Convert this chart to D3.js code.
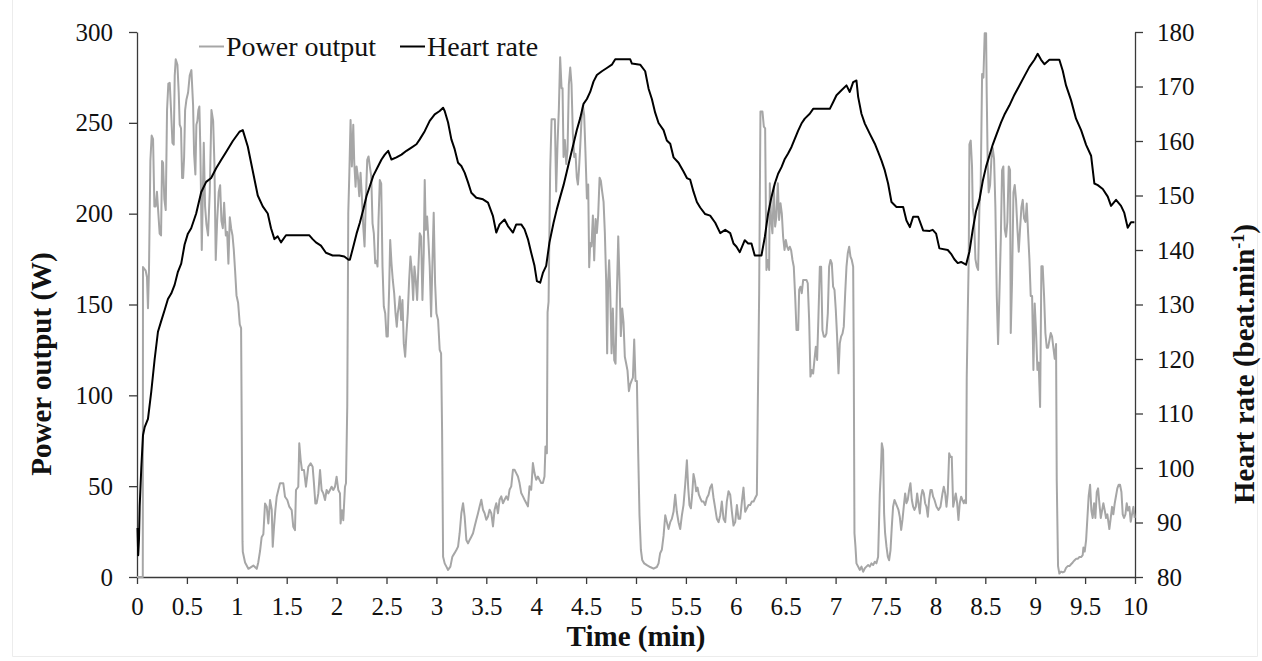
<!DOCTYPE html>
<html><head><meta charset="utf-8">
<script src="https://cdn.jsdelivr.net/npm/d3@7/dist/d3.min.js"></script>
<style>
body{margin:0;background:#fff}
svg{display:block}
text{font-family:"Liberation Serif","Times New Roman",serif}
</style>
</head><body>
<svg id="c" width="1262" height="661"></svg>
<script>
// ---- data ----
const powerTime = [0,0.058,0.06,0.087,0.1,0.11,0.12,0.134,0.147,0.161,0.174,0.187,0.2,0.214,0.227,0.241,0.251,0.261,0.274,0.288,0.301,0.314,0.328,0.341,0.355,0.368,0.378,0.388,0.405,0.418,0.428,0.441,0.452,0.462,0.472,0.482,0.495,0.512,0.528,0.545,0.562,0.572,0.585,0.595,0.605,0.615,0.625,0.635,0.649,0.659,0.669,0.682,0.696,0.712,0.729,0.746,0.763,0.776,0.789,0.803,0.819,0.833,0.846,0.86,0.873,0.89,0.903,0.916,0.93,0.943,0.957,0.97,0.983,0.997,1.013,1.03,1.043,1.057,
1.06,1.083,1.116,1.166,1.2,1.215,1.233,1.249,1.266,1.283,1.3,1.316,1.333,1.35,1.36,1.373,1.386,1.4,1.416,1.433,1.466,1.483,1.506,1.526,1.55,1.566,1.583,1.593,1.616,1.626,1.64,1.653,1.673,1.693,1.717,1.74,1.76,1.773,1.787,1.8,1.817,1.834,1.85,1.867,1.884,1.9,1.917,1.934,1.95,1.967,1.984,2.0,2.017,2.034,2.04,2.054,2.067,2.084,2.094,2.107,
2.117,2.127,2.14,2.153,2.167,2.177,2.19,2.2,2.213,2.227,2.24,2.253,2.267,2.28,2.293,2.307,2.32,2.333,2.347,2.36,2.373,2.387,2.4,2.41,2.42,2.433,2.447,2.46,2.473,2.487,2.5,2.513,2.527,2.537,2.55,2.563,2.577,2.59,2.603,2.613,2.623,2.633,2.647,2.66,2.673,2.687,2.7,2.713,2.727,2.74,2.753,2.767,2.78,2.793,2.807,2.82,2.833,2.847,2.86,2.873,2.883,2.893,2.907,2.92,2.933,2.947,2.96,2.973,2.987,3.0,3.017,3.033,3.047,3.057,3.067,3.083,3.1,3.117,3.14,3.16,3.18,3.2,3.217,3.233,3.25,3.267,3.283,3.3,3.317,3.333,3.35,3.367,3.383,3.4,3.417,3.433,3.45,3.467,3.483,3.5,3.517,3.533,3.55,3.567,3.583,3.6,3.617,3.633,3.65,3.667,3.683,3.7,3.717,3.733,3.75,3.767,3.783,3.8,3.817,3.833,3.85,3.867,3.883,3.9,3.917,3.933,3.95,3.967,3.983,4.0,4.017,4.033,4.05,4.067,4.083,4.093,
4.107,4.114,4.124,4.14,4.154,4.167,4.187,4.2,4.214,4.227,4.24,4.254,4.264,4.274,4.287,4.301,4.314,4.327,4.341,4.354,4.367,4.381,4.394,4.407,4.418,4.428,4.441,4.454,4.468,4.481,4.494,4.508,4.521,4.531,4.541,4.554,4.568,4.581,4.595,4.608,4.621,4.635,4.648,4.661,4.675,4.688,4.701,4.711,4.721,4.731,4.741,4.755,4.768,4.782,4.795,4.808,4.822,4.835,4.848,4.862,4.875,4.888,4.902,4.915,4.929,4.942,4.955,4.969,4.982,4.995,5.009,5.022,5.035,5.049,5.062,5.082,5.109,5.142,5.176,5.209,5.226,5.242,5.259,5.276,5.293,5.309,5.326,5.343,5.359,5.376,5.393,5.409,5.426,5.443,5.46,5.476,5.493,5.51,5.523,5.536,5.55,5.563,5.576,5.59,5.603,5.617,5.63,5.643,5.66,5.677,5.693,5.71,5.727,5.743,5.76,5.777,5.794,5.81,5.827,5.844,5.86,5.877,5.894,5.91,5.927,5.944,5.961,5.977,5.994,6.011,6.027,6.044,6.061,6.077,6.094,6.111,6.128,6.144,6.161,6.178,6.194,6.211,
6.22,6.234,6.247,6.267,6.281,6.294,6.307,6.321,6.334,6.341,6.354,6.367,6.381,6.394,6.407,6.421,6.434,6.448,6.461,6.474,6.488,6.501,6.514,6.528,6.541,6.554,6.568,6.581,6.595,6.608,6.625,6.635,6.648,6.661,6.675,6.691,6.708,6.721,6.735,6.748,6.761,6.775,6.788,6.802,6.815,6.828,6.842,6.855,6.868,6.882,6.895,6.908,6.922,6.935,6.949,6.962,6.975,6.989,7.002,7.015,7.029,7.042,7.055,7.069,7.082,7.096,7.109,7.122,7.136,7.149,7.162,7.176,7.182,7.189,7.199,7.209,7.226,7.242,7.259,7.276,7.293,7.309,7.326,7.343,7.359,7.376,7.393,7.409,7.426,7.443,7.453,7.463,7.476,7.486,7.496,7.51,7.523,7.536,7.55,7.563,7.576,7.59,7.603,7.617,7.63,7.643,7.657,7.67,7.683,7.697,7.71,7.723,7.737,7.75,7.764,7.777,7.79,7.804,7.817,7.83,7.844,7.857,7.87,7.884,7.897,7.91,7.924,7.937,7.951,7.964,7.977,7.991,8.011,8.031,8.051,8.071,8.084,8.098,8.111,8.124,8.138,8.151,8.164,8.178,8.191,8.204,8.218,8.231,8.244,8.258,8.271,8.285,8.298,8.307,
8.314,8.324,8.334,8.341,8.354,8.367,8.374,8.387,8.401,8.414,8.428,8.441,8.454,8.468,8.481,8.494,8.508,8.514,8.524,8.534,8.548,8.561,8.574,8.588,8.601,8.615,8.628,8.641,8.655,8.668,8.681,8.695,8.708,8.721,8.735,8.748,8.755,8.768,8.782,8.795,8.808,8.822,8.835,8.848,8.862,8.875,8.888,8.902,8.915,8.929,8.942,8.955,8.969,8.982,8.995,9.009,9.022,9.035,9.049,9.062,9.075,9.089,9.102,9.116,9.129,9.142,9.156,9.169,9.182,9.196,9.209,9.216,9.229,9.242,9.259,9.276,9.293,9.309,9.326,9.343,9.359,9.376,9.393,9.409,9.426,9.443,9.46,9.476,9.483,9.496,9.51,9.523,9.536,9.55,9.563,9.576,9.59,9.603,9.617,9.63,9.643,9.657,9.67,9.683,9.697,9.71,9.723,9.743,9.757,9.77,9.783,9.797,9.81,9.823,9.837,9.85,9.864,9.877,9.89,9.904,9.917,9.93,9.944,9.957,9.97,9.984,9.997];

const powerW = [0,0,170.6,168.6,165,148,168.6,229,243,241,204,204,212,200,189,188,229,228,208,202,257,271.6,272,257,239,238,276,285,282,266.7,249,247,219.6,219.6,231,257,262.7,266.7,276,279,259.8,233,221.6,249,251,257,259,235,180,208,239,204,194,188,212,257,251,227,174.5,196,212,215.7,196,192,206,188,190,172.5,198,192,188,180,168.6,155,151,139,137,19.6,
13.9,8,4.5,6.3,4.5,8,14.3,21.9,23.5,40.5,38.7,29.5,42.4,37,16.7,27.6,36.8,44.2,47.9,51.6,51.6,44.2,42.4,38.7,36.8,27.6,25.8,47.9,49.7,73.6,64.4,58.9,58.9,49.7,60.7,62.6,60.7,51.6,40.5,40.5,46,58.9,47.9,46,42.4,47.9,46,47.9,49.7,47.9,49.7,55.2,47.9,46,29.5,36.8,31.3,49.7,51.6,94.7,
200.5,220.7,251.6,226,248.9,228,214.8,226,220.7,209.6,222.5,209.6,192.9,181.9,207.8,229.6,231.5,226,220.7,194.7,189.2,172.7,174,170.9,196.6,218.5,216.6,170.9,148.9,145.2,132.4,132.4,159.8,185.5,172.7,163.5,156.2,145.2,137.8,145.2,148.9,154.4,141.5,152.5,128.6,121.3,134.2,145.2,163.5,176.4,169,152.5,170.9,163.5,152.5,170.9,189.2,187.3,152.5,178.2,218.5,191.1,198.4,185.5,170.9,143.4,172.7,200.5,161.7,145.2,141.5,125,123.1,80.9,11.2,7.5,5.7,3.9,5.7,11.2,13,14.9,16.7,24.1,35.1,40.6,33.3,20.4,18.5,20.4,22.2,24.1,27.8,31.5,35.1,38.8,42.5,37,35.1,31.5,33.3,37,35.1,27.8,37,40.6,35.1,42.5,44.4,40.6,42.5,44.4,42.5,48,49.9,59,59,57.2,55.3,51.7,46.2,44.4,42.5,40.7,38.9,49.9,48,62.7,57.2,53.5,55.3,53.5,51.7,51.7,55.3,71.9,
68.1,145.8,151.5,223.6,252,252,252,212.2,238.8,257.7,286.1,269.1,269.1,231.2,240.6,227.4,235,271,280.4,271,244.4,231.2,233,219.8,216,223.6,236.8,252,259.6,253.9,233,208.4,216,170.5,183.8,182,199,174.3,197,189.4,199,219.8,218,212.2,206.5,189.4,162.9,123.1,162.9,174.3,159.1,123.1,147.8,119.3,117.4,155.3,187.5,162.9,132.6,147.8,140.2,121.2,117.4,113.6,102.3,106,108,109.8,130.7,107.9,107.9,68.1,34,15,9.4,7.5,6.5,5.5,4.6,5.5,7.5,13.1,15,22.6,34,30.2,26.4,30.2,32,35.9,45.3,35.9,30.2,26.4,34,39.6,51,64.3,49.2,39.6,37.8,45.3,56.7,53,47.2,49.2,45.3,43.5,41.5,41.5,39.6,43.5,45.3,49.2,51,43.5,37.8,32.1,30.2,34,41.5,32.1,30.2,41.5,47.2,45.3,35.9,28.3,30.2,39.6,32.1,32.1,41.5,49.2,35.9,37.8,39.6,39.6,41.5,41.5,43.5,45.3,
91.9,156.2,256.2,256.2,247.9,247,169,174.5,169,216.7,196.5,189.2,214.9,192.9,198.4,216.7,196.5,205.7,200.2,187.3,180,185.5,181.8,180,181.8,180,174.5,170.8,154.3,136,136,158,159.8,156.2,163.5,163.5,163.5,161.7,141.5,110.3,114,112,119.5,126.8,119.5,143.3,170.8,170.8,136,132.3,132.3,134,145.2,170.8,174.5,172.7,159.8,158,147,132.3,112.1,128.6,132.3,134,137.8,156.2,170.8,178.2,181.8,176.3,174.5,170.8,119.5,24.1,16.7,7.5,5.7,3.9,5.7,2.9,4.8,5.7,6.6,5.7,7.5,6.6,8.4,7.5,11.2,46,57.1,73.6,69.9,35,24.1,16.7,11.2,9.2,14.7,27.5,38.7,42.4,40.6,38.7,36.9,33.2,25.9,31.4,38.7,46,40.6,42.4,47.9,51.6,42.4,38.7,36.9,38.7,46,40.6,35,44.2,47.9,46,40.6,38.7,33.2,42.4,47.9,47.9,44.2,42.4,38.7,36.9,38.7,46,49.7,46,38.7,46,68.1,66,66.2,38.7,42.4,46,40.6,31.4,40.6,44.2,42.4,40.6,42.4,40.6,
109.9,144.5,175,238.2,240.2,226,203.6,197.5,175,171,169,203.6,215.8,276.9,274.9,299.3,299.3,266.7,228,211.7,215.8,230.1,236.2,230,203.6,154.7,128.2,154.7,185.2,223.9,226,191.4,187.3,195.4,226,224,134.3,162.8,211.7,215.8,207.6,191.4,179.1,191.4,203.6,207.6,197.5,195.4,205.6,189.3,175,154.7,154.7,114,150.6,134.3,114,118,93.6,171,171,154.7,134.3,126.2,126.2,130.2,134.3,132.3,126.2,120.1,128.2,52.8,6,1.9,3,2.5,3,5,6,6,7,8,9.1,10,10,11,11,12.1,16.2,14,20.3,32.5,44.7,50.8,36.6,32.5,40.6,32.5,46.8,48.8,40.6,32.5,36.6,40.6,36.6,32.5,34.5,26.4,32.5,38.6,34.5,40.6,44.7,48.8,50.8,50.8,46.8,34.5,32.5,34.5,40.6,36.6,38.6,30.4,34.5,38.6,32.5];

const hrTime = [0.005,0.012,0.02,0.027,0.043,0.06,0.077,0.11,0.143,0.177,0.21,0.243,0.277,0.31,0.343,0.377,0.41,0.443,0.477,0.51,0.543,0.593,0.643,0.693,0.743,0.793,0.843,0.893,0.96,1.027,1.06,1.11,1.16,1.21,1.26,1.31,1.343,1.377,1.41,1.443,1.493,1.56,1.627,1.727,1.76,1.793,1.843,1.893,1.96,2.027,2.077,2.12,
2.133,2.167,2.2,2.233,2.267,2.3,2.333,2.367,2.417,2.45,2.483,2.517,2.55,2.6,2.65,2.7,2.75,2.8,2.833,2.883,2.933,2.983,3.033,3.067,3.083,3.117,3.15,3.183,3.217,3.25,3.283,3.317,3.35,3.4,3.467,3.517,3.567,3.6,3.633,3.683,3.717,3.767,3.8,3.85,3.883,3.917,3.95,3.983,4.007,4.04,4.067,4.1,4.133,
4.174,4.207,4.24,4.274,4.307,4.341,4.374,4.407,4.441,4.474,4.508,4.541,4.574,4.608,4.658,4.708,4.758,4.792,4.942,4.959,5.042,5.092,5.126,5.159,5.192,5.226,5.276,5.309,5.343,5.376,5.426,5.476,5.51,5.543,5.576,5.61,5.643,5.693,5.743,5.794,5.844,5.894,5.944,5.977,
6.007,6.04,6.09,6.124,6.157,6.19,6.257,6.291,6.324,6.357,6.391,6.424,6.458,6.491,6.524,6.558,6.591,6.625,6.658,6.691,6.741,6.775,6.942,6.975,7.009,7.059,7.109,7.142,7.176,7.209,7.226,7.259,7.293,7.343,7.393,7.426,7.46,7.493,7.526,7.56,7.61,7.677,7.71,7.744,7.777,7.827,7.877,7.944,
7.973,8.007,8.04,8.124,8.157,8.19,8.224,8.257,8.307,8.341,8.374,8.407,8.441,8.474,8.508,8.541,8.574,8.608,8.658,8.691,8.741,8.792,8.842,8.892,8.942,8.992,9.025,9.059,9.092,9.142,9.242,9.276,9.309,9.359,9.409,9.46,9.51,9.56,9.593,9.627,9.677,9.727,9.76,9.81,9.86,9.893,9.927,9.96,9.994];

const hrBpm = [89,84,87,93,100,106,107.5,109,114,120,125,127,129,131,132,133.6,136,137.5,141,143,144,146.7,150.6,152.5,153.2,155,156.5,158,160,161.7,162,159,154.5,150,148,146.7,144,142,142.5,141.4,142.7,142.7,142.7,142.7,142,141.4,140.8,139.5,139,139,138.8,138.2,
138.2,140.6,143,145,147.4,149.9,151.7,153.6,155.4,156.6,157.5,158.2,156.6,157,157.5,158.2,158.8,159.4,160.3,161.8,163.7,164.9,165.5,166.1,165.5,163.4,160.3,158.5,156,155.4,154.2,152.4,150.5,149.6,149.3,148.7,146.2,143.2,144.7,145.6,144.4,143.2,144.7,144.7,143.8,142,139.5,137.1,134.3,134,135.8,137.1,141.4,
145,147.5,149.7,151.9,154.4,157,159.5,162,164.2,166.8,167.7,169,170.9,172.1,172.8,173.4,174,175,175,174.2,174,172.8,169.6,167.7,165.2,163.3,162,160.1,159.5,157,156,154.4,153.2,152.9,150.7,148.8,147.8,146.6,146.3,145,143.1,143.7,143.1,141.2,
140.6,139.6,141.8,141.2,141.2,139,139,142.4,146.7,149.7,152.2,154,155.2,156.7,157.7,158.9,160.4,161.9,163.2,164.1,165,165.9,165.9,167.1,168.4,169.3,170.2,169,170.8,171.1,168.1,165,163.2,161.3,159.5,158,156.4,154.6,152.2,148.8,147.9,147.9,145.4,144.2,146.1,146.1,143.6,143.5,
143.7,143,140.3,140,139.3,138.3,137.6,137.8,137.3,139.7,143.7,147.1,149.2,152.6,155.3,157.3,159.3,161,163.4,164.8,166.5,168.5,170.2,171.9,173.6,174.9,176,174.9,174.1,174.9,174.9,172.9,170.2,167.5,164.1,162,159.3,157.3,152.2,151.9,151.2,149.8,148.1,149.2,148.1,146.8,144.1,145.1,145.1];

const xTicks = [0,0.5,1,1.5,2,2.5,3,3.5,4,4.5,5,5.5,6,6.5,7,7.5,8,8.5,9,9.5,10];
const powerTicks = [0,50,100,150,200,250,300];
const hrTicks = [80,90,100,110,120,130,140,150,160,170,180];
const seriesNames = ["Power output","Heart rate"];

// ---- chart ----
const svg = d3.select("#c");
svg.append("rect").attr("width",1262).attr("height",661).attr("fill","#fff");
// faint outer frame of the chart
svg.append("path").attr("d","M12.5,0 V656.5 H1257.5 V0").attr("fill","none")
  .attr("stroke","#ececec").attr("stroke-width",1);

const x = d3.scaleLinear().domain([0,10]).range([137,1135]);
const yP = d3.scaleLinear().domain([0,300]).range([577,32]);
const yH = d3.scaleLinear().domain([80,180]).range([577,32]);

const axisColor = "#3a3a3a";
function styleAxis(g){
  g.attr("font-family",null).attr("font-size",null);
  g.select(".domain").attr("stroke",axisColor).attr("stroke-width",1.3);
  g.selectAll(".tick line").attr("stroke",axisColor).attr("stroke-width",1.3);
  g.selectAll(".tick text").attr("fill","#111").style("font-size","25px")
   .style("font-family",'"Liberation Serif","Times New Roman",serif');
}

svg.append("g").attr("transform","translate(0,577)")
  .call(d3.axisBottom(x).tickValues(xTicks).tickSize(7).tickPadding(13).tickSizeOuter(0).tickFormat(d=>String(d)))
  .call(styleAxis);
svg.append("g").attr("transform","translate(137,0)")
  .call(d3.axisLeft(yP).tickValues(powerTicks).tickSize(8).tickPadding(16).tickSizeOuter(0))
  .call(styleAxis);
svg.append("g").attr("transform","translate(1135,0)")
  .call(d3.axisRight(yH).tickValues(hrTicks).tickSize(8).tickPadding(14).tickSizeOuter(0))
  .call(styleAxis);

const pData = powerTime.map((t,i)=>[t,powerW[i]]);
const hData = hrTime.map((t,i)=>[t,hrBpm[i]]);

svg.append("path").datum(pData)
  .attr("fill","none").attr("stroke","#a6a6a6").attr("stroke-width",2).attr("stroke-linejoin","round")
  .attr("d", d3.line().x(d=>x(d[0])).y(d=>yP(d[1])));
svg.append("path").datum(hData)
  .attr("fill","none").attr("stroke","#000").attr("stroke-width",2).attr("stroke-linejoin","round")
  .attr("d", d3.line().x(d=>x(d[0])).y(d=>yH(d[1])));

// legend
const leg = [{name:seriesNames[0],color:"#a6a6a6",x:199},{name:seriesNames[1],color:"#000",x:400}];
leg.forEach(l=>{
  svg.append("line").attr("x1",l.x).attr("x2",l.x+25).attr("y1",46.5).attr("y2",46.5)
    .attr("stroke",l.color).attr("stroke-width",2);
  svg.append("text").attr("x",l.x+27).attr("y",56).style("font-size","28px").attr("fill","#111").text(l.name);
});

// axis titles
svg.append("text").attr("x",636).attr("y",646).attr("text-anchor","middle")
  .style("font-size","29px").style("font-weight","bold").attr("fill","#111").text("Time (min)");
svg.append("text").attr("transform","translate(51,364) rotate(-90)").attr("text-anchor","middle")
  .style("font-size","29px").style("font-weight","bold").attr("fill","#111").text("Power output (W)");
const rt = svg.append("text").attr("transform","translate(1254,364) rotate(-90)").attr("text-anchor","middle")
  .style("font-size","29px").style("font-weight","bold").attr("fill","#111");
rt.append("tspan").text("Heart rate (beat.min");
rt.append("tspan").attr("dy",-10).style("font-size","18px").text("-1");
rt.append("tspan").attr("dy",10).text(")");
</script>
</body></html>
